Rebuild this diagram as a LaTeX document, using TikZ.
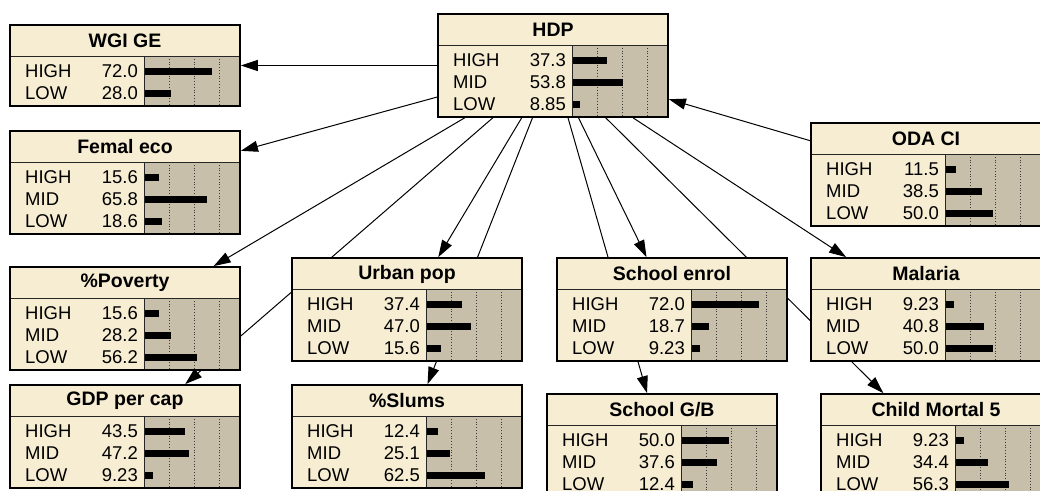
\documentclass[tikz,border=0pt]{standalone}
\usepackage{fontspec}
\setmainfont{Liberation Sans}
\usetikzlibrary{arrows.meta,backgrounds}

\definecolor{paneltan}{RGB}{246,237,210}
\definecolor{barbg}{RGB}{200,191,170}
\definecolor{gridgray}{RGB}{60,60,60}

\tikzset{
  netbox/.style={rectangle, inner sep=0pt, outer sep=0.9pt, draw=none},
  link/.style={line width=1pt, -{Triangle[length=17pt,width=11pt]}},
  boxrim/.style={line width=1.8pt, black},
  sepline/.style={line width=0.8pt, black!85},
  gridline/.style={line width=0.8pt, gridgray, dotted},
  txt/.style={inner sep=0pt, font=\fontsize{18.5}{20}\selectfont},
  rowlabel/.style={txt, anchor=west},
  rowvalue/.style={txt, anchor=east},
  titletext/.style={txt, font=\fontsize{19.5}{21}\selectfont\bfseries},
}

% #1 name, #2 left, #3 top, #4 number of states, #5 title, #6 state/percent list
\newcommand{\netnode}[6]{%
  \pgfmathsetmacro{\nodeht}{37+22*#4}
  \node[netbox, minimum width=230pt, minimum height=\nodeht pt] (#1) at ({#2+115},{#3+\nodeht/2}) {};
  \begin{scope}[shift={(#2,#3)}]
    \fill[paneltan] (0,0) rectangle (230,\nodeht);
    \fill[barbg] (134,31) rectangle (230,\nodeht);
    \foreach \gx in {159,184,209} \draw[gridline] (\gx,31) -- (\gx,\nodeht);
    \foreach \lab/\val [count=\i] in {#6} {
      \pgfmathsetmacro{\ry}{24+22*\i}
      \fill[black] (134,\ry-3.5) rectangle ({134+0.95*\val},\ry+3.5);
      \node[rowlabel] at (15,\ry) {\lab};
      \node[rowvalue] at (128,\ry) {\val};
    }
    \draw[sepline] (0,31) -- (230,31);
    \draw[sepline] (134,31) -- (134,\nodeht);
    \draw[boxrim] (0,0) rectangle (230,\nodeht);
    \node[titletext] at (115,16) {#5};
  \end{scope}}

\begin{document}
\begin{tikzpicture}[x=1pt,y=-1pt]
  \useasboundingbox (0,0) rectangle (1040,490);
  \clip (0,0) rectangle (1040,490);

  \netnode{hdp}{438}{14}{3}{HDP}{HIGH/37.3, MID/53.8, LOW/8.85}
  \netnode{wgi}{10}{25}{2}{WGI GE}{HIGH/72.0, LOW/28.0}
  \netnode{fem}{10}{131}{3}{Femal eco}{HIGH/15.6, MID/65.8, LOW/18.6}
  \netnode{pov}{10}{267}{3}{\%Poverty}{HIGH/15.6, MID/28.2, LOW/56.2}
  \netnode{gdp}{10}{385}{3}{GDP per cap}{HIGH/43.5, MID/47.2, LOW/9.23}
  \netnode{urb}{292}{258}{3}{Urban pop}{HIGH/37.4, MID/47.0, LOW/15.6}
  \netnode{slum}{292}{385}{3}{\%Slums}{HIGH/12.4, MID/25.1, LOW/62.5}
  \netnode{enrol}{557}{258}{3}{School enrol}{HIGH/72.0, MID/18.7, LOW/9.23}
  \netnode{gb}{547}{394}{3}{School G/B}{HIGH/50.0, MID/37.6, LOW/12.4}
  \netnode{oda}{811}{123}{3}{ODA CI}{HIGH/11.5, MID/38.5, LOW/50.0}
  \netnode{mal}{811}{258}{3}{Malaria}{HIGH/9.23, MID/40.8, LOW/50.0}
  \netnode{cm5}{821}{394}{3}{Child Mortal 5}{HIGH/9.23, MID/34.4, LOW/56.3}

  \begin{scope}[on background layer]
    \fill[white] (0,0) rectangle (1040,490);
    \foreach \kid in {wgi,fem,pov,gdp,urb,slum,enrol,gb,mal,cm5}
      \draw[link] (hdp) -- (\kid);
    \draw[link] (oda) -- (hdp);
  \end{scope}
\end{tikzpicture}
\end{document}
